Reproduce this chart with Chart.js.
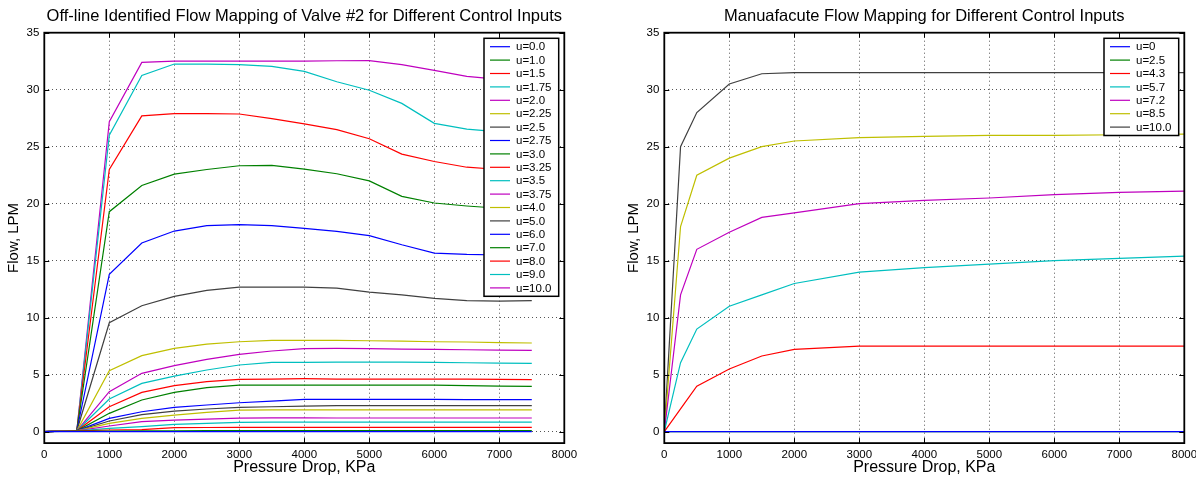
<!DOCTYPE html>
<html>
<head>
    <title>Valve Flow Mapping</title>
    <style>
        body {
            margin: 0;
            background: #fff;
            width: 1196px;
            height: 479px;
            overflow: hidden;
            position: relative;
        }
        canvas {
            position: absolute;
            top: 0;
        }
        #valve { left: 0; }
        #maker { left: 620px; }
    </style>
</head>
<body>
    <canvas id="valve" width="600" height="479"></canvas>
    <canvas id="maker" width="600" height="479"></canvas>

    <script src="https://cdn.jsdelivr.net/npm/chart.js"></script>
    <script>
        // axis ticks (same for both plots)
        var xTicks = [0, 1000, 2000, 3000, 4000, 5000, 6000, 7000, 8000];
        var yTicks = [0, 5, 10, 15, 20, 25, 30, 35];

        // left plot: off-line identified mapping of valve #2
        var valveX = [0, 500, 1000, 1500, 2000, 2500, 3000, 3500, 4000, 4500, 5000, 5500, 6000, 6500, 7000, 7500];
        var valveLabels = ['u=0.0', 'u=1.0', 'u=1.5', 'u=1.75', 'u=2.0', 'u=2.25', 'u=2.5', 'u=2.75', 'u=3.0', 'u=3.25',
                           'u=3.5', 'u=3.75', 'u=4.0', 'u=5.0', 'u=6.0', 'u=7.0', 'u=8.0', 'u=9.0', 'u=10.0'];
        var valveFlow = [
            [0, 0, 0, 0, 0, 0, 0, 0, 0, 0, 0, 0, 0, 0, 0, 0],
            [0, 0.05, 0.06, 0.07, 0.08, 0.09, 0.09, 0.09, 0.09, 0.09, 0.09, 0.09, 0.09, 0.09, 0.09, 0.09],
            [0, 0.07, 0.15, 0.18, 0.35, 0.37, 0.38, 0.38, 0.38, 0.38, 0.38, 0.38, 0.38, 0.38, 0.38, 0.38],
            [0, 0.08, 0.29, 0.44, 0.64, 0.73, 0.82, 0.84, 0.84, 0.84, 0.84, 0.84, 0.84, 0.84, 0.84, 0.84],
            [0, 0.08, 0.5, 0.88, 1.02, 1.11, 1.19, 1.21, 1.21, 1.2, 1.2, 1.2, 1.2, 1.2, 1.2, 1.2],
            [0, 0.08, 0.73, 1.17, 1.46, 1.7, 1.9, 1.92, 1.92, 1.92, 1.92, 1.92, 1.92, 1.92, 1.92, 1.92],
            [0, 0.08, 0.94, 1.49, 1.81, 1.99, 2.13, 2.19, 2.25, 2.28, 2.28, 2.28, 2.28, 2.28, 2.28, 2.28],
            [0, 0.08, 1.17, 1.75, 2.13, 2.34, 2.54, 2.69, 2.84, 2.84, 2.83, 2.83, 2.83, 2.82, 2.82, 2.82],
            [0, 0.08, 1.61, 2.78, 3.45, 3.86, 4.09, 4.09, 4.09, 4.09, 4.09, 4.09, 4.08, 4.04, 4.0, 3.98],
            [0, 0.08, 2.19, 3.45, 4.04, 4.39, 4.59, 4.62, 4.65, 4.62, 4.62, 4.62, 4.62, 4.62, 4.59, 4.56],
            [0, 0.08, 2.87, 4.24, 4.88, 5.41, 5.85, 6.08, 6.08, 6.11, 6.11, 6.11, 6.08, 6.05, 6.02, 6.0],
            [0, 0.08, 3.51, 5.12, 5.79, 6.35, 6.78, 7.08, 7.28, 7.31, 7.28, 7.25, 7.22, 7.19, 7.16, 7.13],
            [0, 0.08, 5.35, 6.67, 7.31, 7.69, 7.89, 8.01, 8.01, 8.01, 7.98, 7.95, 7.89, 7.87, 7.81, 7.78],
            [0, 0.08, 9.56, 11.05, 11.87, 12.4, 12.69, 12.69, 12.69, 12.6, 12.25, 12.0, 11.7, 11.5, 11.45, 11.5],
            [0, 0.08, 13.8, 16.55, 17.6, 18.07, 18.16, 18.07, 17.84, 17.57, 17.2, 16.4, 15.67, 15.55, 15.5, 15.4],
            [0, 0.08, 19.3, 21.6, 22.6, 23.0, 23.33, 23.36, 23.04, 22.63, 22.0, 20.64, 20.06, 19.8, 19.6, 19.4],
            [0, 0.08, 23.0, 27.7, 27.9, 27.9, 27.87, 27.46, 27.0, 26.5, 25.7, 24.35, 23.7, 23.2, 23.0, 22.8],
            [0, 0.08, 26.0, 31.25, 32.25, 32.25, 32.2, 32.05, 31.6, 30.7, 29.95, 28.8, 27.05, 26.55, 26.3, 26.1],
            [0, 0.08, 27.2, 32.4, 32.5, 32.5, 32.5, 32.5, 32.5, 32.54, 32.55, 32.2, 31.7, 31.17, 30.9, 30.6]
        ];

        // right plot: manufacturer flow mapping
        var makerX = [0, 250, 500, 1000, 1500, 2000, 3000, 4000, 5000, 6000, 7000, 8000];
        var makerLabels = ['u=0', 'u=2.5', 'u=4.3', 'u=5.7', 'u=7.2', 'u=8.5', 'u=10.0'];
        var makerFlow = [
            [0, 0, 0, 0, 0, 0, 0, 0, 0, 0, 0, 0],
            [0, 0, 0, 0, 0, 0, 0, 0, 0, 0, 0, 0],
            [0, 2.0, 4.0, 5.5, 6.64, 7.22, 7.5, 7.5, 7.5, 7.5, 7.5, 7.5],
            [0, 6.05, 9.0, 11.0, 12.0, 13.0, 14.0, 14.4, 14.7, 15.0, 15.2, 15.4],
            [0, 12.0, 16.0, 17.5, 18.8, 19.2, 20.0, 20.3, 20.5, 20.8, 21.0, 21.1],
            [0, 18.0, 22.5, 24.0, 25.0, 25.5, 25.8, 25.9, 26.0, 26.0, 26.05, 26.1],
            [0, 25.0, 28.0, 30.5, 31.4, 31.5, 31.5, 31.5, 31.5, 31.5, 31.5, 31.5]
        ];

        // matlab default line colours
        var lineColors = ['#0000ff', '#008000', '#ff0000', '#00bfbf', '#bf00bf', '#bfbf00', '#404040'];
        var fontFamily = '"Liberation Sans", Arial, Helvetica, sans-serif';

        // box round the plot with inward ticks on all four sides
        var axesBox = {
            id: 'axesBox',
            afterDatasetsDraw: function(chart) {
                var ctx = chart.ctx, a = chart.chartArea;
                var xs = chart.scales.x, ys = chart.scales.y;
                ctx.save();
                ctx.strokeStyle = '#000';
                ctx.lineWidth = 1;
                ctx.beginPath();
                xTicks.forEach(function(v) {
                    var px = Math.round(xs.getPixelForValue(v)) + 0.5;
                    ctx.moveTo(px, a.bottom); ctx.lineTo(px, a.bottom - 5);
                    ctx.moveTo(px, a.top); ctx.lineTo(px, a.top + 5);
                });
                yTicks.forEach(function(v) {
                    var py = Math.round(ys.getPixelForValue(v)) + 0.5;
                    ctx.moveTo(a.left, py); ctx.lineTo(a.left + 5, py);
                    ctx.moveTo(a.right, py); ctx.lineTo(a.right - 5, py);
                });
                ctx.stroke();
                ctx.lineWidth = 1.8;
                ctx.strokeRect(a.left, a.top, a.right - a.left, a.bottom - a.top);
                ctx.restore();
            }
        };

        // legend box in the upper right corner, like matlab
        var cornerLegend = {
            id: 'cornerLegend',
            afterDraw: function(chart) {
                var ctx = chart.ctx, a = chart.chartArea;
                var ds = chart.data.datasets;
                var w = 74.7, rowH = 13.4, pad = 8.4;
                var h = rowH * (ds.length - 1) + 2 * pad;
                var x = a.right - 5.6 - w, y = a.top + 5.6;
                ctx.save();
                ctx.fillStyle = '#fff';
                ctx.fillRect(x, y, w, h);
                ctx.font = '11.5px ' + fontFamily;
                ctx.textBaseline = 'middle';
                ds.forEach(function(d, i) {
                    var yy = y + pad + i * rowH;
                    ctx.strokeStyle = d.borderColor;
                    ctx.lineWidth = 1.2;
                    ctx.beginPath();
                    ctx.moveTo(x + 6, yy);
                    ctx.lineTo(x + 26, yy);
                    ctx.stroke();
                    ctx.fillStyle = '#000';
                    ctx.fillText(d.label, x + 32, yy + 0.5);
                });
                ctx.lineWidth = 1.5;
                ctx.strokeStyle = '#000';
                ctx.strokeRect(x, y, w, h);
                ctx.restore();
            }
        };

        function makeChart(id, title, xs, labels, flows) {
            var datasets = flows.map(function(row, i) {
                return {
                    label: labels[i],
                    data: row.map(function(v, j) { return {x: xs[j], y: v}; }),
                    borderColor: lineColors[i % lineColors.length],
                    borderWidth: 1.2,
                    pointRadius: 0,
                    tension: 0,
                    fill: false
                };
            });
            var tickFont = {family: fontFamily, size: 11.5};
            return new Chart(document.getElementById(id).getContext('2d'), {
                type: 'line',
                data: {datasets: datasets},
                options: {
                    responsive: false,
                    animation: false,
                    layout: {padding: {left: 0, right: 35.7, top: 0, bottom: 0}},
                    plugins: {
                        legend: {display: false},
                        tooltip: {enabled: false},
                        title: {
                            display: true,
                            fullSize: false,
                            text: title,
                            color: '#000',
                            font: {family: fontFamily, size: 16.5, weight: 'normal'},
                            padding: {top: 7, bottom: 5.9}
                        }
                    },
                    scales: {
                        x: {
                            type: 'linear',
                            min: 0,
                            max: 8000,
                            afterBuildTicks: function(s) { s.ticks = xTicks.map(function(v) { return {value: v}; }); },
                            afterFit: function(s) { s.height = 35.9; },
                            grid: {color: '#555', lineWidth: 1, drawTicks: false},
                            border: {display: false, dash: [1, 3]},
                            ticks: {font: tickFont, color: '#000', padding: 5, maxRotation: 0,
                                    callback: function(v) { return String(v); }},
                            title: {display: true, text: 'Pressure Drop, KPa', color: '#000',
                                    font: {family: fontFamily, size: 16}, padding: {top: 0, bottom: 2}}
                        },
                        y: {
                            min: -1,
                            max: 35,
                            afterBuildTicks: function(s) { s.ticks = yTicks.map(function(v) { return {value: v}; }); },
                            afterFit: function(s) { s.width = 44.3; },
                            grid: {color: '#555', lineWidth: 1, drawTicks: false},
                            border: {display: false, dash: [1, 3]},
                            ticks: {font: tickFont, color: '#000', padding: 5},
                            title: {display: true, text: 'Flow, LPM', color: '#000',
                                    font: {family: fontFamily, size: 15}, padding: {top: 5, bottom: 0}}
                        }
                    }
                },
                plugins: [axesBox, cornerLegend]
            });
        }

        makeChart('valve', 'Off-line Identified Flow Mapping of Valve #2 for Different Control Inputs',
                  valveX, valveLabels, valveFlow);
        makeChart('maker', 'Manuafacute Flow Mapping for Different Control Inputs',
                  makerX, makerLabels, makerFlow);
    </script>
</body>
</html>
